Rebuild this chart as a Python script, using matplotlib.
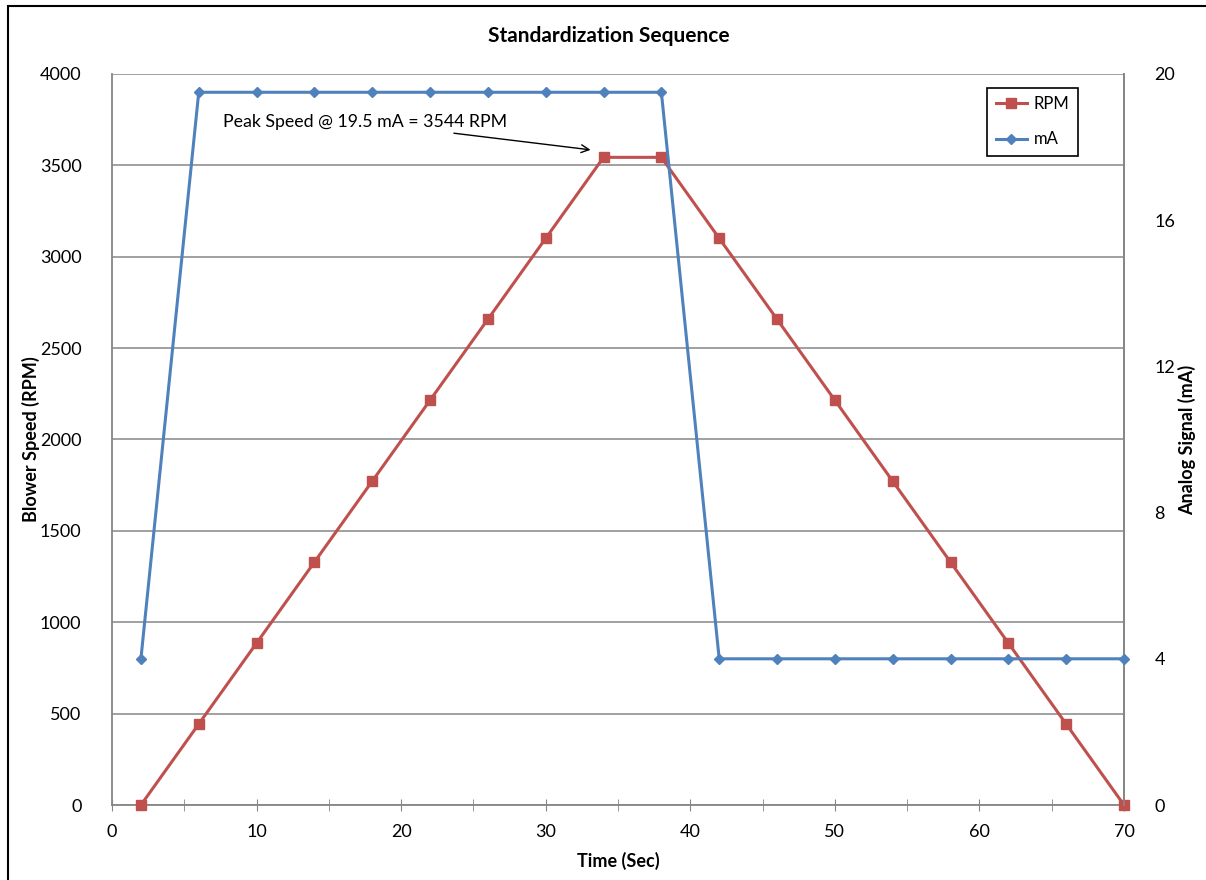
import matplotlib
matplotlib.use("Agg")
import matplotlib.pyplot as plt
from matplotlib.patches import Rectangle
from matplotlib.ticker import MultipleLocator

plt.rcParams['font.family'] = ['Lato', 'DejaVu Sans']

time_sec = [2, 6, 10, 14, 18, 22, 26, 30, 34, 38, 42, 46, 50, 54, 58, 62, 66, 70]
rpm = [0, 443, 886, 1329, 1772, 2215, 2658, 3101, 3544, 3544,
       3101, 2658, 2215, 1772, 1329, 886, 443, 0]
ma = [4, 19.5, 19.5, 19.5, 19.5, 19.5, 19.5, 19.5, 19.5, 19.5,
      4, 4, 4, 4, 4, 4, 4, 4]

W, H = 1206, 880
fig = plt.figure(figsize=(W / 100, H / 100), dpi=100)
ax = fig.add_axes([112 / W, 1 - 805 / H, (1124 - 112) / W, (805 - 74) / H])
ax2 = ax.twinx()

red = '#C0504D'
blue = '#4F81BD'
grey = '#868686'

ax.plot(time_sec, rpm, color=red, lw=2.2, marker='s', ms=7.5, label='RPM', zorder=3, clip_on=False)
ax2.plot(time_sec, ma, color=blue, lw=2.2, marker='D', ms=5, label='mA', zorder=3, clip_on=False)

ax.set_xlim(0, 70)
ax.set_ylim(0, 4000)
ax2.set_ylim(0, 20)
ax.xaxis.set_major_locator(MultipleLocator(10))
ax.xaxis.set_minor_locator(MultipleLocator(5))
ax.yaxis.set_major_locator(MultipleLocator(500))
ax2.yaxis.set_major_locator(MultipleLocator(4))

ax.yaxis.grid(True, color=grey, lw=1.1)
ax.set_axisbelow(True)

for a in (ax, ax2):
    for s in a.spines.values():
        s.set_color(grey)
        s.set_linewidth(1.3)
    a.spines['top'].set_visible(False)
ax2.spines['left'].set_visible(False)
ax2.spines['bottom'].set_visible(False)

ax.tick_params(axis='x', which='both', direction='inout', length=8, color=grey, labelsize=13, pad=10)
ax.tick_params(axis='y', length=0, labelsize=13, pad=22)
ax2.tick_params(axis='y', length=0, labelsize=13, pad=22)

ax.set_xlabel('Time (Sec)', fontsize=13, fontweight='bold', labelpad=8)
ax.set_ylabel('Blower Speed (RPM)', fontsize=13, fontweight='bold', labelpad=0)
ax2.set_ylabel('Analog Signal (mA)', fontsize=13, fontweight='bold', labelpad=2)

fig.text(0.505, 1 - 36 / H, 'Standardization Sequence', ha='center', va='center',
         fontsize=15, fontweight='bold')

ax.annotate('Peak Speed @ 19.5 mA = 3544 RPM', xy=(33.1, 3585), xytext=(7.7, 3735),
            fontsize=12.8, va='center', ha='left',
            arrowprops=dict(arrowstyle='->', color='black', lw=1, shrinkA=0, shrinkB=0,
                            mutation_scale=14))

h1, l1 = ax.get_legend_handles_labels()
h2, l2 = ax2.get_legend_handles_labels()
leg = ax2.legend(h1 + h2, l1 + l2, loc='upper right', bbox_to_anchor=(1078 / W, 1 - 88 / H),
                 bbox_transform=fig.transFigure, fontsize=12, fancybox=False,
                 edgecolor='black', framealpha=1, handlelength=1.9, handletextpad=0.4,
                 labelspacing=1.15, borderpad=0.5, borderaxespad=0)
leg.get_frame().set_linewidth(1.2)

fig.patches.append(Rectangle((8 / W, -0.05), 1.2, 1.05 - 6 / H, transform=fig.transFigure,
                             fill=False, edgecolor='black', lw=1.5))

fig.savefig('out.png', dpi=100)
